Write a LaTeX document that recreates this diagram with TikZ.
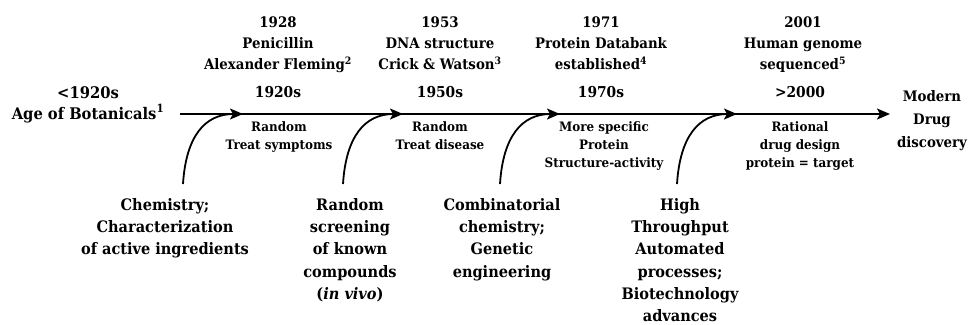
\documentclass[tikz,border=0pt]{standalone}
\usepackage{fontspec}
\setmainfont{DejaVu Serif}[FakeStretch=0.92]
\usetikzlibrary{arrows.meta}
\begin{document}
\begin{tikzpicture}[x=1pt,y=-1pt,
  base/.style={align=center, inner sep=0pt, anchor=north},
  toplbl/.style={base, font=\bfseries\fontsize{14.5}{21}\selectfont},
  declbl/.style={base, font=\bfseries\fontsize{15}{21}\selectfont},
  leftlbl/.style={base, font=\bfseries\fontsize{16}{21}\selectfont},
  sublbl/.style={base, font=\bfseries\fontsize{13}{18}\selectfont},
  botlbl/.style={base, font=\bfseries\fontsize{15.8}{22.3}\selectfont},
  endlbl/.style={base, font=\bfseries\fontsize{14.5}{23}\selectfont},
  tip/.style={-{Stealth[length=13pt,width=11pt,inset=3pt]}},
  mainline/.style={line width=1.8pt},
  feed/.style={line width=1.8pt, tip}]
\useasboundingbox (0,0) rectangle (971,324);

% top event labels
\node[toplbl] (e1928) at (278,17) {1928\\Penicillin\\Alexander Fleming\textsuperscript{2}};
\node[toplbl] (e1953) at (440,17) {1953\\DNA structure\\Crick \& Watson\textsuperscript{3}};
\node[toplbl] (e1971) at (601,17) {1971\\Protein Databank\\established\textsuperscript{4}};
\node[toplbl] (e2001) at (803,17) {2001\\Human genome\\sequenced\textsuperscript{5}};

% era labels
\node[leftlbl] (start) at (88,86) {<1920s\\Age of Botanicals\textsuperscript{1}};
\node[declbl] (d1920) at (278,86) {1920s};
\node[declbl] (d1950) at (440,86) {1950s};
\node[declbl] (d1970) at (601,86) {1970s};
\node[declbl] (d2000) at (800,86) {>2000};
\node[endlbl] (modern) at (932,90) {Modern\\Drug\\discovery};

% below-line descriptions
\node[sublbl] (s1920) at (279,121) {Random\\Treat symptoms};
\node[sublbl] (s1950) at (440,121) {Random\\Treat disease};
\node[sublbl] (s1970) at (604,121) {More specific\\Protein\\Structure-activity};
\node[sublbl] (s2000) at (800,121) {Rational\\drug design\\protein = target};

% bottom drivers
\node[botlbl] (b1) at (165,198) {Chemistry;\\Characterization\\of active ingredients};
\node[botlbl] (b2) at (350,198) {Random\\screening\\of known\\compounds\\(\textit{in vivo})};
\node[botlbl] (b3) at (502,198) {Combinatorial\\chemistry;\\Genetic\\engineering};
\node[botlbl] (b4) at (680,198) {High\\Throughput\\Automated\\processes;\\Biotechnology\\advances};

% main timeline
\coordinate (ls) at (180,114);
\coordinate (le) at (890,114);
\draw[mainline, tip] (ls) -- (le);

% feeding curves
\coordinate (f1s) at (183,184); \coordinate (f1e) at (243,114);
\coordinate (f2s) at (343,184); \coordinate (f2e) at (403,114);
\coordinate (f3s) at (500,184); \coordinate (f3e) at (560,114);
\coordinate (f4s) at (677,184); \coordinate (f4e) at (737,114);
\draw[feed] (f1s) .. controls +(3,-48) and +(-38,0) .. (f1e);
\draw[feed] (f2s) .. controls +(3,-48) and +(-38,0) .. (f2e);
\draw[feed] (f3s) .. controls +(3,-48) and +(-38,0) .. (f3e);
\draw[feed] (f4s) .. controls +(3,-48) and +(-38,0) .. (f4e);
\end{tikzpicture}
\end{document}
